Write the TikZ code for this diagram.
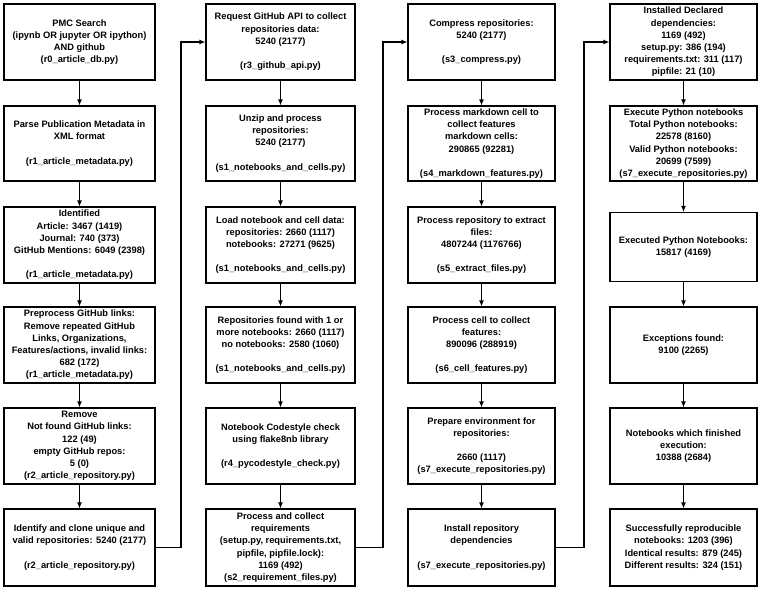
\documentclass[tikz,border=0pt]{standalone}
\usepackage{fontspec}
\setmainfont{Liberation Sans}
\usetikzlibrary{arrows.meta}
\begin{document}
\begin{tikzpicture}[x=1pt,y=-1pt,
  box/.style={draw,line width=1.1pt,align=center,inner sep=1pt,font=\fontsize{9.3}{12.2}\selectfont\bfseries,minimum height=76pt},
  w1/.style={minimum width=151pt},w2/.style={minimum width=149pt},w3/.style={minimum width=147pt},w4/.style={minimum width=147pt},
  arr/.style={line width=1.1pt,-{Latex[length=6pt,width=5pt]}}]
\useasboundingbox (0,0) rectangle (764,590);
\def\e{\mbox{}}
% column 1
\node[box,w1] (a1) at (79.5,42) {PMC Search\\(ipynb OR jupyter OR ipython)\\AND github\\(r0\_article\_db.py)};
\node[box,w1,minimum height=75pt] (a2) at (79.5,143.5) {Parse Publication Metadata in\\XML format\\\e\\(r1\_article\_metadata.py)};
\node[box,w1] (a3) at (79.5,245) {Identified\\Article: 3467 (1419)\\Journal: 740 (373)\\GitHub Mentions: 6049 (2398)\\\e\\(r1\_article\_metadata.py)};
\node[box,w1] (a4) at (79.5,345) {Preprocess GitHub links:\\Remove repeated GitHub\\Links, Organizations,\\Features/actions, invalid links:\\682 (172)\\(r1\_article\_metadata.py)};
\node[box,w1] (a5) at (79.5,446) {Remove\\Not found GitHub links:\\122 (49)\\empty GitHub repos:\\5 (0)\\(r2\_article\_repository.py)};
\node[box,w1,minimum height=77pt] (a6) at (79.5,547.5) {Identify and clone unique and\\valid repositories: 5240 (2177)\\\e\\(r2\_article\_repository.py)};
% column 2
\node[box,w2] (b1) at (280.5,42) {Request GitHub API to collect\\repositories data:\\5240 (2177)\\\e\\(r3\_github\_api.py)};
\node[box,w2,minimum height=75pt] (b2) at (280.5,143.5) {Unzip and process\\repositories:\\5240 (2177)\\\e\\(s1\_notebooks\_and\_cells.py)};
\node[box,w2] (b3) at (280.5,245) {Load notebook and cell data:\\repositories: 2660 (1117)\\notebooks: 27271 (9625)\\\e\\(s1\_notebooks\_and\_cells.py)};
\node[box,w2] (b4) at (280.5,345) {Repositories found with 1 or\\more notebooks: 2660 (1117)\\no notebooks: 2580 (1060)\\\e\\(s1\_notebooks\_and\_cells.py)};
\node[box,w2] (b5) at (280.5,446) {Notebook Codestyle check\\using flake8nb library\\\e\\(r4\_pycodestyle\_check.py)};
\node[box,w2,minimum height=77pt] (b6) at (280.5,547.5) {Process and collect\\requirements\\(setup.py, requirements.txt,\\pipfile, pipfile.lock):\\1169 (492)\\(s2\_requirement\_files.py)};
% column 3
\node[box,w3] (c1) at (481.5,42) {Compress repositories:\\5240 (2177)\\\e\\(s3\_compress.py)};
\node[box,w3,minimum height=75pt] (c2) at (481.5,143.5) {Process markdown cell to\\collect features\\markdown cells:\\290865 (92281)\\\e\\(s4\_markdown\_features.py)};
\node[box,w3] (c3) at (481.5,245) {Process repository to extract\\files:\\4807244 (1176766)\\\e\\(s5\_extract\_files.py)};
\node[box,w3] (c4) at (481.5,345) {Process cell to collect\\features:\\890096 (288919)\\\e\\(s6\_cell\_features.py)};
\node[box,w3] (c5) at (481.5,446) {Prepare environment for\\repositories:\\\e\\2660 (1117)\\(s7\_execute\_repositories.py)};
\node[box,w3,minimum height=77pt] (c6) at (481.5,547.5) {Install repository\\dependencies\\\e\\(s7\_execute\_repositories.py)};
% column 4
\node[box,w4] (d1) at (683.5,42) {Installed Declared\\dependencies:\\1169 (492)\\setup.py: 386 (194)\\requirements.txt: 311 (117)\\pipfile: 21 (10)};
\node[box,w4,minimum height=75pt] (d2) at (683.5,143.5) {Execute Python notebooks\\Total Python notebooks:\\22578 (8160)\\Valid Python notebooks:\\20699 (7599)\\(s7\_execute\_repositories.py)};
\node[box,w4,minimum height=69pt] (d3) at (683.5,247) {Executed Python Notebooks:\\15817 (4169)};
\node[box,w4] (d4) at (683.5,345) {Exceptions found:\\9100 (2265)};
\node[box,w4] (d5) at (683.5,446) {Notebooks which finished\\execution:\\10388 (2684)};
\node[box,w4,minimum height=77pt] (d6) at (683.5,547.5) {Successfully reproducible\\notebooks: 1203 (396)\\Identical results: 879 (245)\\Different results: 324 (151)};
% vertical arrows
\foreach \c in {a,b,c,d}{
  \foreach \i/\j in {1/2,2/3,3/4,4/5,5/6}{
    \draw[arr] (\c\i.south) -- (\c\j.north);
  }
}
% column links
\coordinate (k1) at (181,0);
\coordinate (k2) at (383,0);
\coordinate (k3) at (584,0);
\draw[arr] (a6.east) -- (a6.east -| k1) -- (b1.west -| k1) -- (b1.west);
\draw[arr] (b6.east) -- (b6.east -| k2) -- (c1.west -| k2) -- (c1.west);
\draw[arr] (c6.east) -- (c6.east -| k3) -- (d1.west -| k3) -- (d1.west);
\end{tikzpicture}
\end{document}
